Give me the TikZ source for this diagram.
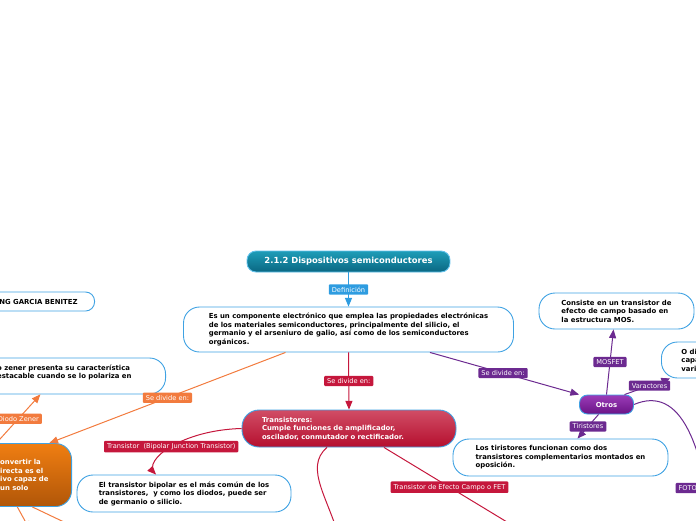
\documentclass[tikz,border=0pt]{standalone}
\usepackage{fontspec}
\setmainfont{DejaVu Sans}
\usetikzlibrary{arrows}
\newcommand{\bodytxt}{\fontsize{6.9}{8.5}\selectfont\bfseries}
\newcommand{\lbltxt}{\fontsize{6.65}{7}\selectfont}
\newcommand{\titletxt}{\fontsize{8.4}{10}\selectfont\bfseries}

\definecolor{bordo}{HTML}{3FA2E3}
\definecolor{defblue}{HTML}{2E9CE0}
\definecolor{titborder}{HTML}{62C2EC}
\definecolor{tealtop}{HTML}{1E9DB8}
\definecolor{tealbot}{HTML}{0A6782}
\definecolor{orng}{HTML}{F27B3E}
\definecolor{orngtop}{HTML}{EF7E12}
\definecolor{orngbot}{HTML}{B05608}
\definecolor{rojo}{HTML}{C5173C}
\definecolor{rojotop}{HTML}{D14D66}
\definecolor{rojobot}{HTML}{B50F2E}
\definecolor{morado}{HTML}{6C2A90}
\definecolor{moradotop}{HTML}{9B3BB8}
\definecolor{moradobot}{HTML}{6A1486}

\tikzset{
  box/.style={draw=bordo, line width=0.9pt, rounded corners=16pt, fill=white,
    align=left, font=\bodytxt, inner sep=0pt},
  colbox/.style={box, text=white, fill=none},
  titlebox/.style={draw=titborder, line width=0.9pt, top color=tealtop,
    bottom color=tealbot, rounded corners=9pt, text=white, font=\titletxt,
    minimum width=203pt, minimum height=21pt},
  lbl/.style={text=white, font=\lbltxt, inner xsep=3pt, inner ysep=2.5pt,
    rounded corners=1pt},
}

\begin{document}
\begin{tikzpicture}[x=1pt,y=-1pt,->,>=triangle 45,line width=1pt]
\useasboundingbox (0,0) rectangle (696,520);

% center
\node[titlebox] (tit) at (348.5,261.5) {2.1.2 Dispositivos semiconductores};
\node[box, minimum width=330pt, minimum height=45pt] (def) at (348.5,329.5)
  {Es un componente electrónico que emplea las propiedades electrónicas\\
   de los materiales semiconductores, principalmente del silicio, el\\
   germanio y el arseniuro de galio, así como de los semiconductores\\
   orgánicos.};

% left side
\node[box, rounded corners=9pt, anchor=east, inner xsep=17pt,
  minimum height=19pt] (autor) at (95,301.5) {NG GARCIA BENITEZ};
\node[box, anchor=east, inner xsep=34pt, minimum height=36pt] (zen) at (166,376)
  {o zener presenta su característica\\estacable cuando se lo polariza en\\.};
\node[colbox, top color=orngtop, bottom color=orngbot, anchor=east,
  inner xsep=23pt, minimum height=63pt] (conv) at (72,475)
  {onvertir la\\irecta es el\\ivo capaz de\\un solo};

% transistores
\node[colbox, top color=rojotop, bottom color=rojobot, text width=174pt,
  inner xsep=20pt, minimum height=37pt, rounded corners=17pt] (trans) at (349,428.5)
  {Transistores:\\Cumple funciones de amplificador,\\oscilador, conmutador o rectificador.};
\node[box, minimum width=214pt, minimum height=37pt] (bip) at (184,493.5)
  {El transistor bipolar es el más común de los\\
   transistores,\ \ y como los diodos, puede ser\\de germanio o silicio.};

% otros
\node[colbox, top color=moradotop, bottom color=moradobot, minimum width=54pt,
  minimum height=19pt, rounded corners=8pt] (otros) at (606.5,404.5) {Otros};
\node[box, minimum width=155pt, minimum height=36pt] (mos) at (616.5,311)
  {Consiste en un transistor de\\efecto de campo basado en\\la estructura MOS.};
\node[box, anchor=west, inner xsep=20pt, minimum height=36pt] (var) at (661,360)
  {O di\\capa\\vari};
\node[box, minimum width=215pt, minimum height=37pt] (tiri) at (560.5,457.5)
  {Los tiristores funcionan como dos\\transistores complementarios montados en\\oposición.};

% children outside the page
\coordinate (fetKid) at (540,542);
\coordinate (curvKid) at (341,545);
\coordinate (fotoKid) at (716,560);
\coordinate (convKidA) at (30,530);
\coordinate (convKidB) at (85,532);

% connectors
\path[->,color=defblue] (tit) edge node[lbl,fill=defblue] {Definición} (def);
\path[->,color=orng] ([xshift=-63pt]def.south) edge node[lbl,fill=orng] {Se divide en:} ([xshift=25pt]conv.north);
\path[->,color=orng] ([xshift=-28pt]conv.north) edge node[lbl,fill=orng] {Diodo Zener} ([xshift=-24pt]zen.south);
\path[->,color=orng] ([xshift=-7pt]conv.south) edge (convKidA)
  ([xshift=8pt]conv.south) edge (convKidB);
\path[->,color=rojo] (def.south) edge node[lbl,fill=rojo] {Se divide en:} (trans.north);
\draw[->,rojo] (trans.west) .. controls (182,430) and (142,460) ..
  node[lbl,fill=rojo] {Transistor\ \ (Bipolar Junction Transistor)} ([xshift=-28pt]bip.north);
\draw[->,rojo] ([xshift=-22pt]trans.south) .. controls (303,468) and (330,500) .. (curvKid);
\path[->,color=rojo] ([xshift=35pt]trans.south) edge node[lbl,fill=rojo,pos=0.42] {Transistor de Efecto Campo o FET} (fetKid);
\path[->,color=morado] ([xshift=81.5pt]def.south) edge node[lbl,fill=morado,pos=0.49] {Se divide en:} (otros.north west);
\path[->,color=morado] (otros.north) edge node[lbl,fill=morado] {MOSFET} ([xshift=-3pt]mos.south);
\path[->,color=morado] ([xshift=18pt]otros.north) edge node[lbl,fill=morado,pos=0.55] {Varactores} ([xshift=9pt]var.south west);
\path[->,color=morado] ([xshift=-8pt]otros.south) edge node[lbl,fill=morado] {Tiristores} ([xshift=17pt]tiri.north);
\draw[->,morado] (otros.east) .. controls (680,385) and (705,440) .. (fotoKid);
\node[lbl,fill=morado,anchor=west] (foto) at (675,488) {FOTO};
\end{tikzpicture}
\end{document}
